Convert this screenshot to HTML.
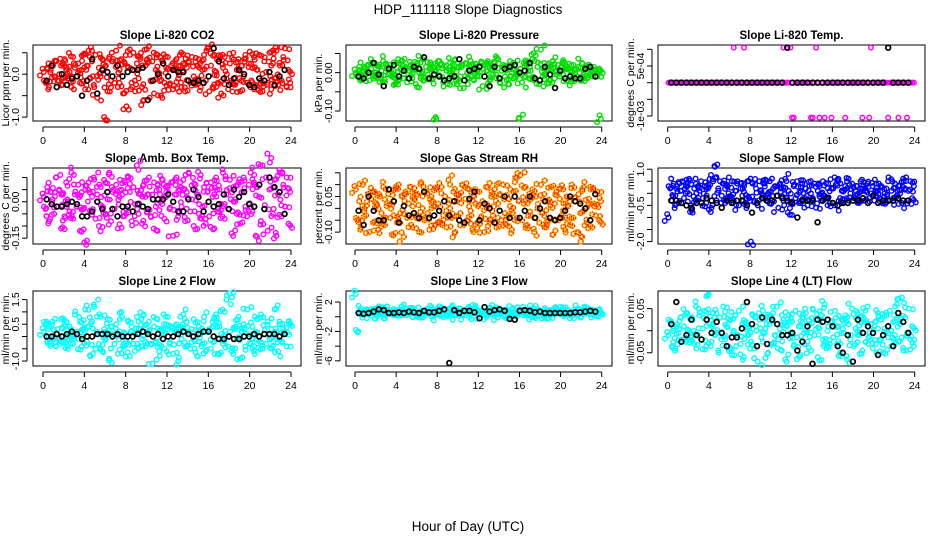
<!DOCTYPE html>
<html><head><meta charset="utf-8"><style>
html,body{margin:0;padding:0;background:#fff;}
svg{display:block;font-family:"Liberation Sans",Arial,sans-serif;}
</style></head><body>
<svg id="chart" width="936" height="540" viewBox="0 0 936 540" xmlns="http://www.w3.org/2000/svg">
<rect width="936" height="540" fill="#fff"/>
<text x="468" y="14" text-anchor="middle" font-size="13.5">HDP_111118  Slope Diagnostics</text>
<text x="468" y="531" text-anchor="middle" font-size="13.5">Hour of Day (UTC)</text>
</svg>
<script>
// ---- data (values scaled; see panel "sc") ----
const co2Color = [5,-20,15,-30,10,25,-5,30,-15,0,20,-25,35,10,-10,5,-30,40,15,-5,25,-20,10,45,
-35,20,55,-10,30,-25,45,-55,15,-5,35,-100,20,-40,40,-15,30,-20,55,-30,10,35,-45,25,
-75,15,45,-20,50,-40,25,-10,40,-30,-60,20,35,65,-15,30,-45,10,45,-5,-50,30,-20,15,
40,-25,20,-35,10,35,-10,45,-30,25,-40,15,30,-20,40,-5,-25,20,35,-30,10,45,-15,60,
-40,20,-30,45,5,-20,35,-45,15,40,-10,-35,25,-15,50,-25,10,35,-40,20,-5,45,-20,25,
-30,15,40,-25,10,45,-15,-40,30,5,-20,50,-35,25,-10,55,-25,20,-15,40,60,-30,10,-20];
const co2Black = [-15,20,-30,0,-25,-10,-5,-50,-15,35,-45,10,5,-5,20,-5,5,10,10,15,-60,-15,0,25,-5,10,5,5,-15,-20,-15,-20,-5,60,30,-10,-25,-10,10,0,-25,-30,-10,-15,5,-25,-5,10];
const presColor = [0,-10,15,-15,5,10,-5,20,-20,10,-10,25,0,-15,15,5,30,-25,10,-5,20,-10,5,-30,
25,-20,10,30,-5,15,-25,5,20,-15,10,-30,25,0,-10,35,-20,15,-5,10,20,-15,5,-120,
30,-10,20,-25,15,5,-20,25,-5,10,35,-30,15,-10,20,-40,25,0,-15,30,10,-20,15,5,
-10,25,-35,20,5,30,-20,10,-5,25,-15,35,-25,5,20,-10,15,-30,30,0,-15,20,-5,-120,
10,-25,25,-10,30,-15,5,35,-20,45,15,-30,60,-10,25,-5,20,-20,10,30,-15,5,20,-10,
15,-5,25,-20,10,5,-15,20,0,-10,15,-20,25,-5,10,-15,20,0,-10,15,5,-10,10,-120];
const presBlack = [-10,-15,0,25,-5,-35,10,20,-10,5,-15,15,10,40,-15,-5,-10,-20,-15,-10,35,-20,5,10,15,-10,-35,15,-15,10,15,20,0,5,25,-15,-20,15,-5,-40,5,-15,-10,-15,-15,10,15,-10];
const tempColor = [0,0,0,0,0,0,0,0,0,0,0,0,0,0,0,0,0,0,0,0,0,0,0,0,
0,0,0,0,0,0,0,0,0,0,0,0,0,0,10.5,0,0,0,0,0,10.5,0,0,0,
0,0,0,0,0,0,0,0,0,0,0,0,0,0,0,0,0,0,0,10.5,0,0,0,10.5,
-10.5,-10.5,0,0,0,0,0,0,0,0,0,-10.5,-10.5,0,10.5,0,-10.5,0,0,-10.5,0,0,0,-10.5,
0,0,0,0,0,0,0,-10.5,0,0,0,0,0,0,0,0,0,-10.5,0,0,0,-10.5,10.5,0,
0,0,0,0,0,0,0,0,-10.5,0,0,0,0,0,-10.5,0,0,0,0,-10.5,0,0,0,0];
const tempBlack = [0,0,0,0,0,0,0,0,0,0,0,0,0,0,0,0,0,0,0,0,0,0,0,10.5,0,0,0,0,0,0,0,0,0,0,0,0,0,0,0,0,0,0,0,10.5,0,0,0,0];
const ambColor = [2,-3,6,-8,4,1,-5,10,-2,5,-11,3,-6,8,0,-4,12,-7,3,-2,7,-12,4,-3,
5,-16,8,-4,2,10,-7,3,-10,6,-2,9,-5,1,12,-8,4,-3,7,-11,2,5,-6,8,
-3,10,4,-8,6,-1,15,-5,3,-9,7,2,-4,10,-6,3,8,-2,-12,5,0,9,-7,4,
6,-3,8,-14,3,10,-6,5,-2,9,-8,4,12,-4,1,-10,7,3,-5,11,-2,6,-9,4,
-6,8,2,-11,10,-4,5,-1,12,-7,3,-3,9,-13,6,0,-5,8,-9,4,10,-2,-6,7,
12,-4,8,-14,6,2,-8,15,-3,10,-12,5,18,-5,9,-14,3,12,-6,7,-2,10,-9,4];
const ambBlack = [1,-1,-2,-2,-1,0,-1,-6,-6,-4,0,-3,4,-3,-6,-2,-2,-4,-1,-2,-3,1,1,1,3,0,-4,-4,1,5,2,-4,0,-2,-1,3,-3,5,2,4,-1,-2,7,-3,10,6,4,-5];
const rhColor = [8,-5,3,-8,10,0,-3,6,-10,4,-6,7,2,-9,5,-2,9,-7,1,6,-4,-11,3,8,
-6,10,-2,5,-12,7,-4,2,9,-8,4,-3,6,-10,11,0,-5,7,-2,-9,5,3,-7,8,
2,-6,9,-3,5,-8,12,0,-4,7,-10,3,6,-2,10,-7,4,-5,8,-1,-9,5,2,-6,
7,-4,3,-10,9,1,-6,5,-3,8,-8,2,6,-5,10,-2,-7,4,1,-9,7,13,-4,3,
14,-5,2,9,-7,4,-3,8,-10,5,0,-6,10,-2,6,-8,3,-4,9,-11,2,7,-5,4,
-3,8,-9,5,1,-7,10,-4,3,-10,6,-2,-12,9,0,-6,4,8,-8,2,-3,7,-5,3];
const rhBlack = [-1,-7,5,-1,-5,-5,8,3,-6,1,-3,-2,-4,7,-4,-3,-1,3,-3,3,-5,-6,4,7,-5,2,0,-6,-1,5,-4,5,-4,-1,5,-4,0,3,-4,-5,-4,-1,5,3,2,0,-5,6];
const flowColor = [-10,2,-3,4,-1,3,-4,1,5,-2,0,3,6,-5,-8,2,4,-3,1,5,-2,3,-4,2,
6,-6,5,11,-3,2,5,-1,4,-4,3,0,-2,5,-3,1,4,-5,2,-1,3,-4,5,-2,
-20,4,-3,2,-5,5,1,-2,4,-3,0,5,-4,2,3,-1,-6,4,2,-3,6,-2,1,-4,
-9,3,-2,5,-4,1,4,-3,2,-5,3,0,-2,4,-6,1,3,-3,5,-1,-2,4,-4,2,
2,-5,4,6,-2,1,-4,3,5,-3,0,4,-2,-1,3,-4,5,2,-3,1,4,-2,0,3,
-3,4,1,-2,3,-4,0,2,5,-3,1,-2,4,-1,3,0,-4,5,2,-3,1,5,-2,3];
const flowBlack = [-3,-3,-4,-5,-6,-4,-4,-2,-3,-4,-6,-3,-4,-3,-3,-5,-8,-4,-2,-3,-3,-1,-2,-3,-4,-10,-3,-3,-3,-12,-3,-2,-4,-5,-4,-4,-3,-3,-2,-4,-1,-4,-3,-3,-3,-2,-3,-3];
const l2Color = [2,5,-2,4,-3,6,0,-4,3,-1,7,-2,5,0,-5,4,1,-3,9,2,-1,6,-4,3,
11,-2,4,-8,6,13,-5,2,-3,8,-6,3,-1,7,-9,4,0,-3,5,-7,2,10,-4,1,
-2,6,-8,4,-3,1,8,-5,3,-1,9,-4,2,6,-3,-11,4,-2,7,-6,3,1,-5,5,
8,-3,4,-7,2,5,-10,3,-1,9,-4,6,2,-5,3,7,-2,-8,4,1,-3,8,-6,2,
3,-5,6,-2,9,-7,4,1,-3,10,15,-4,2,-6,18,3,-1,8,-9,2,5,-4,11,1,
-3,4,-6,2,7,-2,9,-5,1,-3,6,-1,3,-4,11,2,-6,5,-2,3,1,-4,6,5];
const l2Black = [0,0,1,0,1,2,1,-1,0,0,1,1,1,0,1,0,0,0,1,2,1,0,1,-1,0,0,1,2,1,0,1,2,2,0,-1,-1,0,-1,-1,0,0,1,0,1,1,1,0,1];
const l3Color = [31,-21,5,8,3,6,10,4,7,2,9,5,3,8,11,4,6,2,10,5,7,3,8,6,
4,9,6,2,8,5,11,3,7,4,10,6,2,-1,5,8,3,9,6,4,7,2,8,5,
6,3,9,5,8,2,7,4,10,6,3,8,5,11,4,7,2,9,6,3,8,5,12,4,
7,3,9,5,6,2,8,4,10,6,3,-1,7,5,9,2,8,4,6,10,3,7,5,8,
4,9,6,3,8,5,10,2,7,-2,4,8,6,3,9,5,7,2,8,6,4,9,5,7,
6,3,8,5,9,4,7,2,10,6,3,8,5,7,4,9,6,3,8,5,7,4,9,6];
const l3Black = [5,4,5,7,10,9,5,5,6,5,7,6,5,8,6,6,8,10,-63,9,5,8,8,6,-2,13,7,9,10,8,-3,-4,8,9,8,6,7,5,5,5,5,5,5,6,6,7,8,7];
const l4Color = [-10,20,-35,5,-40,15,-5,30,-20,10,-25,40,0,-15,25,-30,55,-10,35,-20,5,45,-35,80,
15,-25,40,-10,20,-45,30,-5,55,-20,10,-35,25,-55,0,35,-15,45,-30,15,-60,20,-10,5,
-25,35,-40,10,-70,25,-15,45,-5,30,-50,15,-30,40,-10,55,-20,5,-45,25,-65,10,35,-5,
20,-35,45,-15,10,-55,30,-5,40,-25,15,-45,50,-10,25,-60,5,35,-20,60,-40,10,-30,20,
-15,45,-30,10,-50,25,-5,35,-65,15,-20,50,-35,5,40,-10,30,-45,20,-25,55,-5,15,-40,
10,-30,40,-20,25,-50,5,35,-15,45,-35,20,-10,60,-25,15,75,-45,30,-5,50,-20,10,-35];
const l4Black = [15,65,-25,-10,25,-10,-20,25,-5,20,-5,-35,-15,-15,5,65,15,-35,30,-30,25,15,-10,-10,-5,-45,-25,10,-75,25,20,25,10,-35,-50,-10,-70,25,-5,10,-5,-55,-10,10,-35,40,20,-5];
const xTicks = [0,4,8,12,16,20,24];

const cols=[{bl:33,br:301,x0:43,x24:291},{bl:346,br:612,x0:355,x24:601.7},{bl:658,br:925,x0:667.7,x24:914.7}];
const rows=[{bt:45,bb:121},{bt:168,bb:244},{bt:291,bb:366}];
const jdx=[3.1,-4.2,1.6,-2.5,4.4,-1.3,2.2,-3.6,0.7,-0.4,3.8];
const jdy=[3.4,-4.1,1.8,-2.6,4.6,-1.2,2.7,-3.3,0.9,-5.0,0.3,5.2,-0.8];
const panels=[
 {name:'co2',title:'Slope Li-820 CO2',yl:'Licor ppm per min.',c:0,r:0,col:'#ff0000',sc:0.01,ymin:-1.09,ymax:0.68,ticks:[-1,-0.5,0,0.5],labs:{'-1':'-1.0','0':'0.0'},cd:co2Color,bd:co2Black},
 {name:'pressure',title:'Slope Li-820 Pressure',yl:'kPa per min.',c:1,r:0,col:'#00dd00',sc:0.001,ymin:-0.126,ymax:0.072,ticks:[-0.1,-0.05,0,0.05],labs:{'-0.1':'-0.10','0':'0.00'},cd:presColor,bd:presBlack},
 {name:'temp',title:'Slope Li-820 Temp.',yl:'degrees C per min.',c:2,r:0,col:'#ff00ff',sc:0.0001,ymin:-11.5e-4,ymax:11.3e-4,ticks:[-0.001,-0.0005,0,0.0005,0.001],labs:{'-0.001':'-1e-03','0.0005':'5e-04'},cd:tempColor,bd:tempBlack,nojit:true},
 {name:'amb-box-temp',title:'Slope Amb. Box Temp.',yl:'degrees C per min.',c:0,r:1,col:'#ff00ff',sc:0.01,ymin:-0.174,ymax:0.139,ticks:[-0.15,-0.1,-0.05,0,0.05,0.1],labs:{'-0.15':'-0.15','0':'0.00'},cd:ambColor,bd:ambBlack},
 {name:'gas-stream-rh',title:'Slope Gas Stream RH',yl:'percent per min.',c:1,r:1,col:'#ffb000',sc:0.01,ymin:-0.15,ymax:0.17,ticks:[-0.1,-0.05,0,0.05,0.1,0.15],labs:{'-0.1':'-0.10','0.05':'0.05'},cd:rhColor,bd:rhBlack},
 {name:'sample-flow',title:'Slope Sample Flow',yl:'ml/min per min.',c:2,r:1,col:'#0000ff',sc:0.1,ymin:-2.1,ymax:1.05,ticks:[-2,-1.5,-1,-0.5,0,0.5,1],labs:{'-2':'-2.0','-0.5':'-0.5','1':'1.0'},cd:flowColor,bd:flowBlack},
 {name:'line2-flow',title:'Slope Line 2 Flow',yl:'ml/min per min.',c:0,r:2,col:'#00ffff',sc:0.1,ymin:-1.2,ymax:1.85,ticks:[-1,-0.5,0,0.5,1,1.5],labs:{'-1':'-1.0','0.5':'0.5','1.5':'1.5'},cd:l2Color,bd:l2Black},
 {name:'line3-flow',title:'Slope Line 3 Flow',yl:'ml/min per min.',c:1,r:2,col:'#00ffff',sc:0.1,ymin:-6.7,ymax:3.5,ticks:[-6,-4,-2,0,2],labs:{'-6':'-6','-2':'-2','2':'2'},cd:l3Color,bd:l3Black},
 {name:'line4-flow',title:'Slope Line 4 (LT) Flow',yl:'ml/min per min.',c:2,r:2,col:'#00ffff',sc:0.001,ymin:-0.08,ymax:0.09,ticks:[-0.05,0,0.05],labs:{'-0.05':'-0.05','0.05':'0.05'},cd:l4Color,bd:l4Black}
];
const NS='http://www.w3.org/2000/svg';
const svg=document.getElementById('chart');
function mk(tag,attrs,parent,text){const e=document.createElementNS(NS,tag);for(const k in attrs)e.setAttribute(k,attrs[k]);if(text!==undefined)e.textContent=text;(parent||svg).appendChild(e);return e;}
function off(i,k){ if(!k) return [0,0]; return [jdx[(i*3+k*5)%11]*(k===2?-1:1), jdy[(i*5+k*7)%13]*(k===2?-0.85:1)]; }
panels.forEach(p=>{
  const C=cols[p.c],R=rows[p.r];
  const g=mk('g',{});
  
  
  const xs=h=>C.x0+(C.x24-C.x0)*h/24;
  const ys=v=>R.bb-(v-p.ymin)/(p.ymax-p.ymin)*(R.bb-R.bt);
  const t=mk('text',{x:(C.bl+C.br)/2,y:R.bt-6,'text-anchor':'middle','font-size':'11.5','font-weight':'bold'},g,p.title);
  
  
  const box=mk('rect',{x:C.bl,y:R.bt,width:C.br-C.bl,height:R.bb-R.bt,fill:'none',stroke:'#000','stroke-width':1},g);
  
  
  const ax=mk('g',{},g);
  
  
  const ay0=R.bb+6;
  mk('line',{x1:xs(0),x2:xs(24),y1:ay0,y2:ay0,stroke:'#000'},ax);
  xTicks.forEach(h=>{mk('line',{x1:xs(h),x2:xs(h),y1:ay0,y2:ay0+5,stroke:'#000'},ax);
    const l=mk('text',{x:xs(h),y:ay0+17,'text-anchor':'middle','font-size':'10.5'},ax,String(h));
    
    });
  const yx=C.bl-6;
  const ya=mk('g',{},g);
  
  
  const tv=p.ticks;
  mk('line',{x1:yx,x2:yx,y1:ys(tv[0]),y2:ys(tv[tv.length-1]),stroke:'#000'},ya);
  tv.forEach(v=>{mk('line',{x1:yx-5,x2:yx,y1:ys(v),y2:ys(v),stroke:'#000'},ya);
    const lab=p.labs[String(v)];
    if(lab){const l=mk('text',{x:0,y:0,'text-anchor':'middle','font-size':'10.5',transform:`translate(${yx-8},${ys(v)}) rotate(-90)`},ya,lab);
      
      }});
  const yt=mk('text',{x:0,y:0,'text-anchor':'middle','font-size':'10.5',transform:`translate(${C.bl-24},${(R.bt+R.bb)/2}) rotate(-90)`},g,p.yl);
  
  
  const n=p.cd.length;
  const cx=i=>xs(0.08+i*23.84/(n-1));
  const isRH=p.name==='gas-stream-rh';
  const cg=mk('g',{fill:'none',stroke:p.col,'stroke-width':isRH?1.8:1.4},g);
  
  
  const copies=p.nojit?[0]:[0,1,2];
  copies.forEach(k=>{
    p.cd.forEach((v,i)=>{
      const o=off(i,k);
      const c=mk('circle',{cx:cx(i)+o[0],cy:ys(v*p.sc)+o[1],r:2.3},cg);
      
      
    });
  });
  if(isRH){
    const rg=mk('g',{fill:'none',stroke:'#ff0000','stroke-width':1,'stroke-dasharray':'1 1.6'},g);
    
    
    copies.forEach(k=>{
      p.cd.forEach((v,i)=>{
        const o=off(i,k);
        const c=mk('circle',{cx:cx(i)+o[0],cy:ys(v*p.sc)+o[1],r:2.3},rg);
        
        
      });
    });
  }
  const bg=mk('g',{fill:'none',stroke:'#000','stroke-width':1.7},g);
  
  
  p.bd.forEach((v,i)=>{const c=mk('circle',{cx:xs(0.35+i*0.49),cy:ys(v*p.sc),r:2.4},bg);
    
    });
});
</script>
</body></html>
